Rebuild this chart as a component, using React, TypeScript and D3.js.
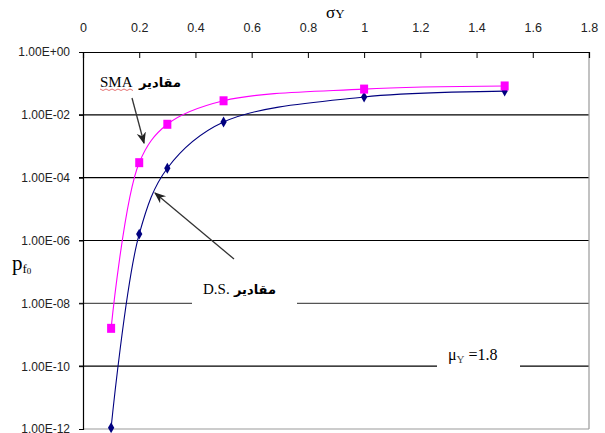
import { useEffect, useRef } from 'react';
import * as d3 from 'd3';

// sigma_Y values and the two pf0 series
const sigmaY = [0.1, 0.2, 0.3, 0.5, 1.0, 1.5];
const smaValues = [1.6e-9, 3.0e-4, 5.0e-3, 2.8e-2, 6.6e-2, 8.3e-2];
const dsValues = [1.1e-12, 1.6e-6, 2.0e-4, 5.9e-3, 3.7e-2, 5.7e-2];

const xTicks = [0, 0.2, 0.4, 0.6, 0.8, 1, 1.2, 1.4, 1.6, 1.8];
const yTicks = [1, 1e-2, 1e-4, 1e-6, 1e-8, 1e-10, 1e-12];

const fmtExp = (d: number) => {
  const e = Math.round(Math.log10(d));
  const a = Math.abs(e);
  return `1.00E${e < 0 ? '-' : '+'}${a < 10 ? '0' + a : a}`;
};

export default function App() {
  const svgRef = useRef<SVGSVGElement>(null);

  useEffect(() => {
    const width = 605;
    const height = 433;
    const margin = { top: 52, right: 16, bottom: 4, left: 83 };
    const innerWidth = width - margin.left - margin.right;
    const innerHeight = height - margin.top - margin.bottom;

    const svg = d3.select(svgRef.current)
      .attr('width', width)
      .attr('height', height);
    svg.selectAll('*').remove();

    svg.append('rect').attr('width', width).attr('height', height).attr('fill', '#fff');

    const chart = svg.append('g')
      .attr('transform', `translate(${margin.left},${margin.top})`);

    const xScale = d3.scaleLinear().domain([0, 1.8]).range([0, innerWidth]);
    const yScale = d3.scaleLog().domain([1e-12, 1]).range([innerHeight, 0]);

    // gridlines
    chart.selectAll('.grid')
      .data(yTicks.slice(1, -1))
      .join('line')
      .attr('class', 'grid')
      .attr('x1', -4)
      .attr('x2', innerWidth)
      .attr('y1', d => yScale(d))
      .attr('y2', d => yScale(d))
      .attr('stroke', d => (d === 1e-8 ? '#555' : '#000'))
      .attr('stroke-width', 1.2);

    // frame: right + bottom grey
    chart.append('line')
      .attr('x1', innerWidth).attr('x2', innerWidth)
      .attr('y1', 0).attr('y2', innerHeight)
      .attr('stroke', '#999').attr('stroke-width', 1.2);
    chart.append('line')
      .attr('x1', 0).attr('x2', innerWidth)
      .attr('y1', innerHeight).attr('y2', innerHeight)
      .attr('stroke', '#999').attr('stroke-width', 1.2);

    // top axis
    const xAxis = chart.append('g')
      .call(d3.axisTop(xScale)
        .tickValues(xTicks)
        .tickSize(-6)
        .tickPadding(20)
        .tickFormat(d => `${+(+d).toFixed(1)}`));
    xAxis.select('.domain').attr('stroke', '#000').attr('stroke-width', 1.2);
    xAxis.selectAll('.tick line').attr('stroke', '#000');
    xAxis.selectAll('text')
      .attr('font-family', 'Liberation Sans, Arial, sans-serif')
      .attr('font-size', 12.5)
      .attr('fill', '#222');

    // left axis
    const yAxis = chart.append('g')
      .call(d3.axisLeft(yScale)
        .tickValues(yTicks)
        .tickSize(4)
        .tickPadding(9)
        .tickFormat(d => fmtExp(+d)));
    yAxis.select('.domain').attr('stroke', '#000').attr('stroke-width', 1.2);
    yAxis.selectAll('.tick line').attr('stroke', '#000');
    yAxis.selectAll('text')
      .attr('font-family', 'Liberation Sans, Arial, sans-serif')
      .attr('font-size', 12)
      .attr('fill', '#222');

    // label backgrounds that break the gridlines
    chart.append('rect')
      .attr('x', 192 - margin.left).attr('y', 278 - margin.top)
      .attr('width', 105).attr('height', 32).attr('fill', '#fff');
    chart.append('rect')
      .attr('x', 437 - margin.left).attr('y', 340 - margin.top)
      .attr('width', 83).attr('height', 36).attr('fill', '#fff');

    const line = d3.line<[number, number]>()
      .x(d => xScale(d[0]))
      .y(d => yScale(d[1]))
      .curve(d3.curveCatmullRom.alpha(0.5));

    const dsPts = sigmaY.map((x, i) => [x, dsValues[i]] as [number, number]);
    const smaPts = sigmaY.map((x, i) => [x, smaValues[i]] as [number, number]);

    chart.append('path').attr('d', line(dsPts))
      .attr('fill', 'none').attr('stroke', '#000080').attr('stroke-width', 1.1);
    chart.append('path').attr('d', line(smaPts))
      .attr('fill', 'none').attr('stroke', '#ff00ff').attr('stroke-width', 1.1);

    chart.selectAll('.ds')
      .data(dsPts)
      .join('path')
      .attr('class', 'ds')
      .attr('d', d3.symbol(d3.symbolDiamond, 34))
      .attr('transform', d => `translate(${xScale(d[0])},${yScale(d[1])})`)
      .attr('fill', '#000080');

    chart.selectAll('.sma')
      .data(smaPts)
      .join('rect')
      .attr('class', 'sma')
      .attr('x', d => xScale(d[0]) - 4)
      .attr('y', d => yScale(d[1]) - 4.5)
      .attr('width', 8)
      .attr('height', 9)
      .attr('fill', '#ff00ff');

    // arrows
    const defs = svg.append('defs');
    defs.append('marker')
      .attr('id', 'arr')
      .attr('viewBox', '0 0 10 10')
      .attr('refX', 9).attr('refY', 5)
      .attr('markerWidth', 9).attr('markerHeight', 9)
      .attr('orient', 'auto')
      .append('path')
      .attr('d', 'M0,1 L10,5 L0,9 L3,5 Z')
      .attr('fill', '#222');

    svg.append('line')
      .attr('x1', 132).attr('y1', 98).attr('x2', 144).attr('y2', 143)
      .attr('stroke', '#333').attr('stroke-width', 1.3)
      .attr('marker-end', 'url(#arr)');
    svg.append('line')
      .attr('x1', 234).attr('y1', 259).attr('x2', 155).attr('y2', 193)
      .attr('stroke', '#333').attr('stroke-width', 1.3)
      .attr('marker-end', 'url(#arr)');

    // annotations
    const serif = 'Liberation Serif, Times New Roman, serif';
    svg.append('text')
      .attr('x', 100).attr('y', 87)
      .attr('font-family', serif).attr('font-size', 15)
      .text('SMA');
    svg.append('path')
      .attr('d', d3.range(0, 12).map(i => `${i === 0 ? 'M' : 'L'}${100 + i * 3},${89 + (i % 2) * 1.5}`).join(''))
      .attr('fill', 'none').attr('stroke', '#e05050').attr('stroke-width', 0.8);
    svg.append('text')
      .attr('x', 139).attr('y', 87)
      .attr('font-family', 'DejaVu Sans, sans-serif').attr('font-size', 13)
      .attr('font-weight', 'bold')
      .attr('direction', 'ltr')
      .text('مقادیر');

    svg.append('text')
      .attr('x', 203).attr('y', 294)
      .attr('font-family', serif).attr('font-size', 15)
      .text('D.S.');
    svg.append('text')
      .attr('x', 234).attr('y', 294)
      .attr('font-family', 'DejaVu Sans, sans-serif').attr('font-size', 13)
      .attr('font-weight', 'bold')
      .text('مقادیر');

    const mu = svg.append('text')
      .attr('x', 448).attr('y', 360)
      .attr('font-family', serif).attr('font-size', 16);
    mu.append('tspan').text('μ');
    mu.append('tspan').attr('font-size', 11).attr('dy', 3).attr('fill', '#444').text('Y');
    mu.append('tspan').attr('dy', -3).text(' =1.8');

    const sig = svg.append('text')
      .attr('x', 326).attr('y', 18)
      .attr('font-family', serif).attr('font-size', 17);
    sig.append('tspan').text('σ');
    sig.append('tspan').attr('font-size', 13).attr('dy', 0).text('Y');

    const pf = svg.append('text')
      .attr('x', 12).attr('y', 270)
      .attr('font-family', serif).attr('font-size', 21);
    pf.append('tspan').text('p');
    pf.append('tspan').attr('font-size', 13).attr('dy', 3).text('f');
    pf.append('tspan').attr('font-size', 9).attr('dy', 1).text('0');
  }, []);

  return (
    <svg ref={svgRef} style={{ position: 'absolute', left: 0, top: 0 }}></svg>
  );
}
